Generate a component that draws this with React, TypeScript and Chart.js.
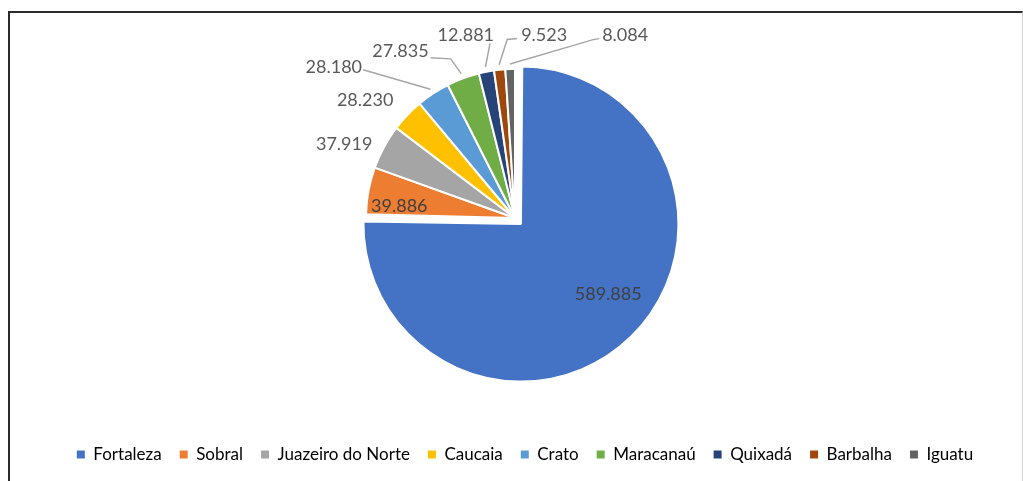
import React, { useEffect, useRef } from "react";
import { Chart, registerables } from "chart.js";

Chart.register(...registerables);

const CATEGORIES = ["Fortaleza", "Sobral", "Juazeiro do Norte", "Caucaia", "Crato", "Maracanaú", "Quixadá", "Barbalha", "Iguatu"];
const VALUES = [589885, 39886, 37919, 28230, 28180, 27835, 12881, 9523, 8084];
const COLORS = ["#4472C4", "#ED7D31", "#A5A5A5", "#FFC000", "#5B9BD5", "#70AD47", "#264478", "#9E480E", "#636363"];
const OFFSETS = [34, 0, 0, 0, 0, 0, 0, 0, 0];

// label placement relative to each slice (angle shift in degrees, radius factor)
const LABEL_PLACE = [
  { da: -7, rf: 0.71, inside: true },
  { da: -5, rf: 0.78, inside: true },
  { da: -5, rf: 1.25 },
  { da: -5.5, rf: 1.28 },
  { da: -17, rf: 1.58, leader: { side: "right", dx: 1, dy: 2, h: 0 } },
  { da: -14, rf: 1.36, leader: { side: "right", dx: 2, dy: 7, h: 20 } },
  { da: -4, rf: 1.27, leader: { side: "right", dx: -4, dy: 8, h: 0 } },
  { da: 15, rf: 1.24, leader: { side: "left", dx: 4, dy: 3, h: -10 } },
  { da: 33, rf: 1.43, leader: { side: "left", dx: 3, dy: 3, h: -6 } },
];

const fmt = (v: number) => String(v).replace(/\B(?=(\d{3})+(?!\d))/g, ".");

const labelPlugin = {
  id: "sliceLabels",
  afterDatasetsDraw(chart: any) {
    const meta = chart.getDatasetMeta(0);
    const ctx = chart.ctx as CanvasRenderingContext2D;
    ctx.save();
    ctx.font = "18px Lato";
    ctx.textAlign = "center";
    ctx.textBaseline = "middle";
    meta.data.forEach((arc: any, i: number) => {
      const { x, y, startAngle, endAngle, outerRadius } = arc.getProps(["x", "y", "startAngle", "endAngle", "outerRadius"], true);
      const mid = (startAngle + endAngle) / 2;
      const off = (OFFSETS[i] || 0) / 4;
      const cx = x + Math.cos(mid) * off;
      const cy = y + Math.sin(mid) * off;
      const R = outerRadius + off;
      const p: any = LABEL_PLACE[i];
      const a = mid + (p.da * Math.PI) / 180;
      const lx = cx + Math.cos(a) * R * p.rf;
      const ly = cy + Math.sin(a) * R * p.rf;
      const text = fmt(VALUES[i]);
      const w = ctx.measureText(text).width;
      if (p.leader) {
        const L = p.leader;
        const ax = cx + Math.cos(mid) * (R + 5);
        const ay = cy + Math.sin(mid) * (R + 5);
        const sx = L.side === "right" ? lx + w / 2 + L.dx : lx - w / 2 - L.dx;
        const sy = ly + L.dy;
        ctx.strokeStyle = "#A6A6A6";
        ctx.lineWidth = 1.5;
        ctx.beginPath();
        ctx.moveTo(sx, sy);
        if (L.h) ctx.lineTo(sx + L.h, sy + 1);
        ctx.lineTo(ax, ay);
        ctx.stroke();
      }
      ctx.fillStyle = p.inside ? "#404040" : "#595959";
      ctx.fillText(text, lx, ly);
    });
    ctx.restore();
  },
};

export default function App() {
  const ref = useRef<HTMLCanvasElement>(null);
  useEffect(() => {
    if (!ref.current) return;
    const chart = new Chart(ref.current, {
      type: "pie",
      data: {
        labels: CATEGORIES,
        datasets: [
          {
            data: VALUES,
            backgroundColor: COLORS,
            borderColor: "#FFFFFF",
            borderWidth: 2,
            offset: OFFSETS,
            radius: 149,
          } as any,
        ],
      },
      options: {
        animation: false,
        responsive: true,
        maintainAspectRatio: false,
        layout: { padding: { left: 27, right: 0, top: 8, bottom: 8 } },
        plugins: {
          tooltip: { enabled: false },
          title: { display: true, position: "right", text: "", fullSize: false, font: { size: 10 }, padding: 4 },
          legend: {
            position: "bottom",
            labels: {
              boxWidth: 8,
              boxHeight: 8,
              padding: 18,
              color: "#595959",
              font: { family: "Lato", size: 17 },
              generateLabels: () =>
                CATEGORIES.map((c, i) => ({
                  text: c,
                  fillStyle: COLORS[i],
                  strokeStyle: COLORS[i],
                  lineWidth: 0,
                  hidden: false,
                  index: i,
                  datasetIndex: 0,
                })),
            },
          },
        },
      },
      plugins: [labelPlugin],
    });
    return () => chart.destroy();
  }, []);

  return (
    <div style={{ position: "fixed", left: 0, top: 0, width: 1023, height: 481, background: "#fff", overflow: "hidden" }}>
      <div
        style={{
          position: "absolute",
          left: 8,
          top: 11,
          width: 1012,
          height: 480,
          borderTop: "2px solid #2a2a2a",
          borderLeft: "2px solid #2a2a2a",
          borderRight: "1px solid #d0d0d0",
        }}
      />
      <div style={{ position: "absolute", left: 0, top: 0, width: 1023, height: 481 }}>
        <canvas ref={ref} />
      </div>
    </div>
  );
}
